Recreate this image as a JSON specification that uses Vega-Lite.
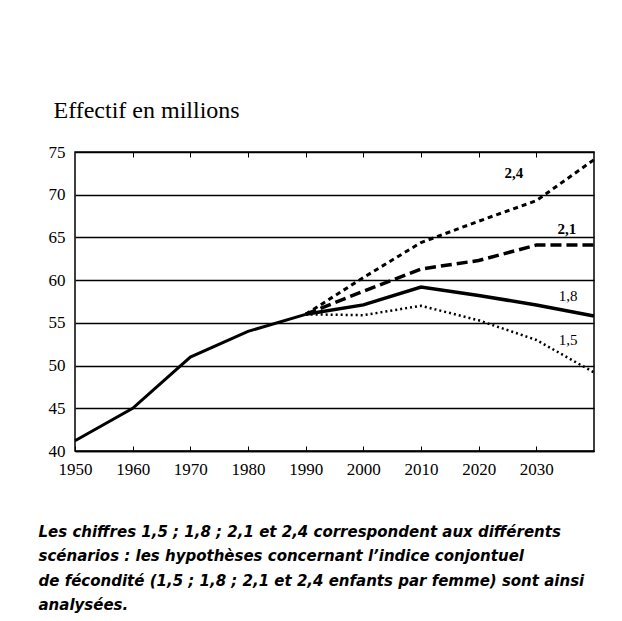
{
  "$schema": "https://vega.github.io/schema/vega-lite/v6.json",
  "width": 519,
  "height": 299,
  "autosize": {"type": "none"},
  "padding": {"left": 75, "top": 152, "right": 28, "bottom": 170},
  "background": "white",
  "config": {"view": {"stroke": "black", "strokeWidth": 1.5}, "font": "Liberation Serif"},
  "datasets": {
    "hist": [
      {"year": 1950, "value": 41.2}, {"year": 1960, "value": 45.0}, {"year": 1970, "value": 51.0},
      {"year": 1980, "value": 54.0}, {"year": 1990, "value": 56.0}
    ],
    "s18": [
      {"year": 1990, "value": 56.0}, {"year": 2000, "value": 57.1}, {"year": 2010, "value": 59.2},
      {"year": 2020, "value": 58.2}, {"year": 2030, "value": 57.1}, {"year": 2040, "value": 55.8}
    ],
    "s21": [
      {"year": 1990, "value": 56.0}, {"year": 2000, "value": 58.7}, {"year": 2010, "value": 61.3},
      {"year": 2020, "value": 62.3}, {"year": 2030, "value": 64.1}, {"year": 2040, "value": 64.1}
    ],
    "s24": [
      {"year": 1990, "value": 56.0}, {"year": 2000, "value": 60.3}, {"year": 2010, "value": 64.4},
      {"year": 2020, "value": 66.9}, {"year": 2030, "value": 69.3}, {"year": 2040, "value": 74.1}
    ],
    "s15": [
      {"year": 1990, "value": 56.0}, {"year": 2000, "value": 55.9}, {"year": 2010, "value": 57.0},
      {"year": 2020, "value": 55.3}, {"year": 2030, "value": 53.0}, {"year": 2040, "value": 49.2}
    ],
    "labBold": [
      {"year": 2026.1, "value": 72.5, "label": "2,4"},
      {"year": 2035.3, "value": 66.0, "label": "2,1"}
    ],
    "labNorm": [
      {"year": 2035.5, "value": 58.2, "label": "1,8"},
      {"year": 2035.5, "value": 53.0, "label": "1,5"}
    ]
  },
  "encoding": {
    "x": {"field": "year", "type": "quantitative", "scale": {"domain": [1950, 2040], "nice": false, "zero": false}, "axis": null},
    "y": {
      "field": "value", "type": "quantitative",
      "scale": {"domain": [40, 75], "nice": false, "zero": false},
      "axis": {
        "values": [40, 45, 50, 55, 60, 65, 70, 75], "grid": true, "gridColor": "black", "gridWidth": 1.5,
        "ticks": false, "domain": false, "labelFont": "Liberation Serif", "labelFontSize": 17,
        "labelColor": "black", "labelPadding": 10,
        "title": "Effectif en millions", "titleAngle": 0, "titleAlign": "left", "titleBaseline": "alphabetic",
        "titleX": -22, "titleY": -35, "titleFont": "Liberation Serif", "titleFontSize": 24,
        "titleFontWeight": "normal", "titleColor": "black"
      }
    }
  },
  "layer": [
    {
      "data": {"name": "hist"},
      "mark": {"type": "line", "color": "black", "strokeWidth": 3},
      "encoding": {
        "x": {
          "field": "year", "type": "quantitative", "scale": {"domain": [1950, 2040], "nice": false, "zero": false},
          "axis": {
            "values": [1950, 1960, 1970, 1980, 1990, 2000, 2010, 2020, 2030], "format": "d",
            "labelFont": "Liberation Serif", "labelFontSize": 17, "labelColor": "black", "labelFlush": false,
            "domain": true, "domainColor": "black", "domainWidth": 1.5,
            "ticks": true, "tickSize": -5, "tickColor": "black", "tickWidth": 1,
            "labelPadding": 15, "grid": false,
            "title": [
              "Les chiffres 1,5 ; 1,8 ; 2,1 et 2,4 correspondent aux différents",
              "scénarios : les hypothèses concernant l’indice conjontuel",
              "de fécondité (1,5 ; 1,8 ; 2,1 et 2,4 enfants par femme) sont ainsi",
              "analysées."
            ],
            "titleFont": "DejaVu Sans", "titleFontStyle": "italic", "titleFontWeight": "bold", "titleFontSize": 15,
            "titleColor": "black", "titleAnchor": "start", "titleAlign": "left", "titleBaseline": "alphabetic",
            "titleX": -37, "titleY": 85, "titleLineHeight": 24.5
          }
        }
      }
    },
    {"data": {"name": "s18"}, "mark": {"type": "line", "color": "black", "strokeWidth": 3.5}},
    {"data": {"name": "s21"}, "mark": {"type": "line", "color": "black", "strokeWidth": 3.5, "strokeDash": [11, 5]}},
    {"data": {"name": "s24"}, "mark": {"type": "line", "color": "black", "strokeWidth": 3, "strokeDash": [5, 4]}},
    {"data": {"name": "s15"}, "mark": {"type": "line", "color": "black", "strokeWidth": 2.5, "strokeDash": [2, 3]}},
    {
      "data": {"name": "labBold"},
      "mark": {"type": "text", "font": "Liberation Serif", "fontSize": 15, "fontWeight": "bold", "color": "black", "align": "center", "baseline": "middle"},
      "encoding": {
        "x": {
          "field": "year", "type": "quantitative", "scale": {"domain": [1950, 2040], "nice": false, "zero": false},
          "axis": {"orient": "top", "labels": false, "ticks": true, "tickSize": -5, "tickColor": "black", "tickWidth": 1, "domain": false, "grid": false, "title": null, "values": [1960, 1970, 1980, 1990, 2000, 2010, 2020, 2030]}
        },
        "text": {"field": "label"}
      }
    },
    {
      "data": {"name": "labNorm"},
      "mark": {"type": "text", "font": "Liberation Serif", "fontSize": 15, "color": "black", "align": "center", "baseline": "middle"},
      "encoding": {"text": {"field": "label"}}
    }
  ],
  "resolve": {"axis": {"x": "independent"}}
}
